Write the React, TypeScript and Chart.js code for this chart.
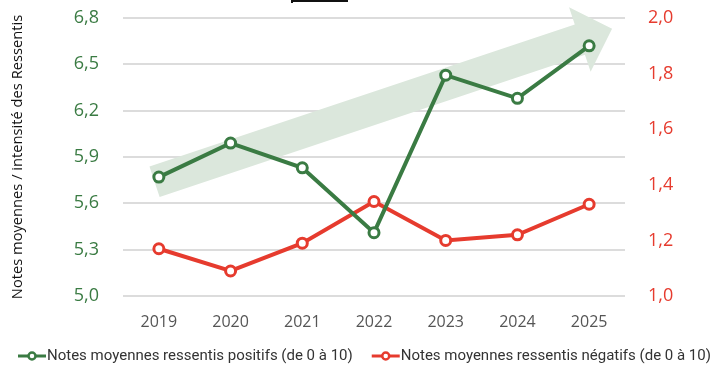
import React, { useEffect, useRef } from "react";
import { Chart, registerables } from "chart.js";

Chart.register(...registerables);

const YEARS = ["2019", "2020", "2021", "2022", "2023", "2024", "2025"];
const POSITIVE = [5.77, 5.99, 5.83, 5.41, 6.43, 6.28, 6.62];
const NEGATIVE = [1.17, 1.09, 1.19, 1.34, 1.2, 1.22, 1.33];
const LEFT_TICKS = [5.0, 5.3, 5.6, 5.9, 6.2, 6.5, 6.8];
const RIGHT_TICKS = [1.0, 1.2, 1.4, 1.6, 1.8, 2.0];
const POSITIVE_LABEL = "Notes moyennes ressentis positifs (de 0 à 10)";
const NEGATIVE_LABEL = "Notes moyennes ressentis négatifs (de 0 à 10)";
const Y_TITLE = "Notes moyennes / intensité des Ressentis";
// trend arrow, in [category index, left-axis value]
const ARROW_START = [-0.06, 5.74];
const ARROW_END = [6.32, 6.73];

const GREEN = "#3a7b43";
const RED = "#e63b2e";

const fmt = (v: number) => v.toFixed(1).replace(".", ",");

const arrowPlugin = {
  id: "trendArrow",
  beforeDatasetsDraw(chart: any) {
    const xs = chart.scales.x;
    const ys = chart.scales.y;
    const x0 = xs.getPixelForValue(ARROW_START[0]);
    const y0 = ys.getPixelForValue(ARROW_START[1]);
    const x1 = xs.getPixelForValue(ARROW_END[0]);
    const y1 = ys.getPixelForValue(ARROW_END[1]);
    const L = Math.hypot(x1 - x0, y1 - y0);
    const ang = Math.atan2(y1 - y0, x1 - x0);
    const hw = 16;
    const HW = 34;
    const hl = 34;
    const ctx = chart.ctx;
    ctx.save();
    ctx.translate(x0, y0);
    ctx.rotate(ang);
    ctx.beginPath();
    ctx.moveTo(0, -hw);
    ctx.lineTo(L - hl, -hw);
    ctx.lineTo(L - hl, -HW);
    ctx.lineTo(L, 0);
    ctx.lineTo(L - hl, HW);
    ctx.lineTo(L - hl, hw);
    ctx.lineTo(0, hw);
    ctx.closePath();
    ctx.fillStyle = "#dbe7dc";
    ctx.fill();
    ctx.restore();
  },
  afterDraw(chart: any) {
    const ctx = chart.ctx;
    ctx.save();
    // small black rule at the top edge
    ctx.fillStyle = "#111";
    ctx.fillRect(291, 0, 57, 2);
    ctx.fillRect(291, 0, 2, 3);

    // legend: line + hollow circle marker, then label
    const y = 356;
    let x = 18;
    ctx.font = "15px Roboto, sans-serif";
    ctx.textBaseline = "middle";
    ctx.textAlign = "left";
    chart.data.datasets.forEach((ds: any) => {
      const color = ds.borderColor;
      ctx.strokeStyle = color;
      ctx.lineWidth = 3;
      ctx.beginPath();
      ctx.moveTo(x, y);
      ctx.lineTo(x + 28, y);
      ctx.stroke();
      ctx.beginPath();
      ctx.arc(x + 14, y, 3.5, 0, Math.PI * 2);
      ctx.fillStyle = "#fff";
      ctx.fill();
      ctx.lineWidth = 2.5;
      ctx.stroke();
      ctx.fillStyle = "#333";
      ctx.fillText(ds.label, x + 29, y);
      x += 29 + ctx.measureText(ds.label).width + 19;
    });
    ctx.restore();
  },
};

export default function App() {
  const ref = useRef<HTMLCanvasElement>(null);
  useEffect(() => {
    const canvas = ref.current!;
    const chart = new Chart(canvas, {
      type: "line",
      data: {
        labels: YEARS,
        datasets: [
          {
            label: POSITIVE_LABEL,
            data: POSITIVE,
            yAxisID: "y",
            borderColor: GREEN,
            backgroundColor: "#fff",
            borderWidth: 4,
            pointRadius: 5,
            pointBorderWidth: 3,
            pointBackgroundColor: "#fff",
            pointBorderColor: GREEN,
            tension: 0,
          },
          {
            label: NEGATIVE_LABEL,
            data: NEGATIVE,
            yAxisID: "y1",
            borderColor: RED,
            backgroundColor: "#fff",
            borderWidth: 4,
            pointRadius: 5,
            pointBorderWidth: 3,
            pointBackgroundColor: "#fff",
            pointBorderColor: RED,
            tension: 0,
          },
        ],
      },
      options: {
        animation: false,
        responsive: true,
        maintainAspectRatio: false,
        layout: { padding: { top: 18, left: 0, right: 0, bottom: 45 } },
        plugins: {
          tooltip: { enabled: false },
          legend: { display: false },
        },
        scales: {
          x: {
            offset: true,
            grid: { display: false, drawTicks: false },
            border: { display: false },
            ticks: {
              padding: 17,
              color: "#555",
              font: { family: "'Open Sans', sans-serif", size: 16 },
            },
            afterFit: (s: any) => {
              s.height = 37;
            },
          },
          y: {
            position: "left",
            min: 5.0,
            max: 6.8,
            border: { display: false },
            grid: { color: "#dcdcdc", lineWidth: 2, drawTicks: false },
            afterBuildTicks: (s: any) => {
              s.ticks = LEFT_TICKS.map((v) => ({ value: v }));
            },
            ticks: {
              padding: 24,
              color: GREEN,
              font: { family: "'Open Sans', sans-serif", size: 18 },
              callback: (v: any) => fmt(Number(v)),
            },
            title: {
              display: true,
              text: Y_TITLE,
              color: "#111",
              padding: { top: 9, bottom: 0 },
              font: { family: "'Open Sans', sans-serif", size: 14.7 },
            },
            afterFit: (s: any) => {
              s.width = 123;
              s.paddingTop = 0;
              s.paddingBottom = 0;
            },
          },
          y1: {
            position: "right",
            min: 1.0,
            max: 2.0,
            border: { display: false },
            grid: { display: false, drawTicks: false },
            afterBuildTicks: (s: any) => {
              s.ticks = RIGHT_TICKS.map((v) => ({ value: v }));
            },
            ticks: {
              padding: 23,
              color: RED,
              font: { family: "'Open Sans', sans-serif", size: 18 },
              callback: (v: any) => fmt(Number(v)),
            },
            afterFit: (s: any) => {
              s.width = 93;
              s.paddingTop = 0;
              s.paddingBottom = 0;
            },
          },
        },
      },
      plugins: [arrowPlugin],
    } as any);
    return () => chart.destroy();
  }, []);
  return (
    <div style={{ position: "fixed", left: 0, top: 0, width: 718, height: 378, background: "#fff" }}>
      <canvas ref={ref} />
    </div>
  );
}
